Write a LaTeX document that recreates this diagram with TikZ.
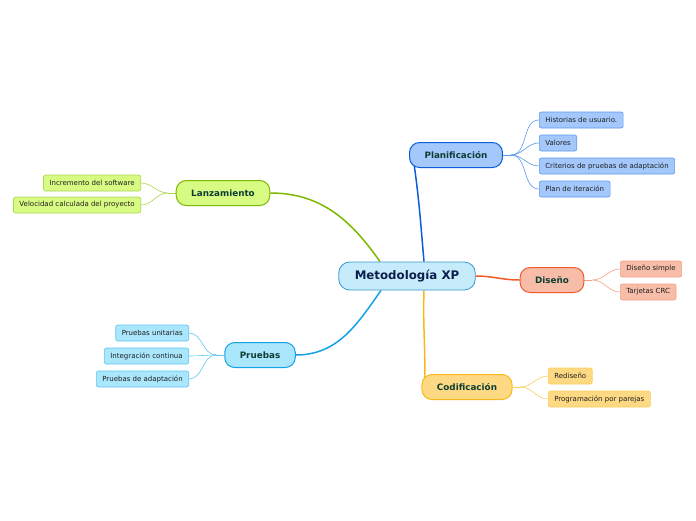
\documentclass[tikz,border=0pt]{standalone}
\usepackage{fontspec}
\setmainfont{DejaVu Sans}
\usetikzlibrary{backgrounds}
\definecolor{xpfill}{HTML}{C6ECFC}
\definecolor{xpline}{HTML}{3A95D3}
\definecolor{xptext}{HTML}{0B1F4D}
\definecolor{topictext}{HTML}{0E3D33}
\definecolor{leaftext}{HTML}{1E1E1E}
\definecolor{planfill}{HTML}{A4C8FC}
\definecolor{planline}{HTML}{0B5ED7}
\definecolor{plantwig}{HTML}{5C98EA}
\definecolor{disfill}{HTML}{F8BDA9}
\definecolor{disline}{HTML}{F05A28}
\definecolor{distwig}{HTML}{F4A085}
\definecolor{codfill}{HTML}{FED983}
\definecolor{codline}{HTML}{F8B81C}
\definecolor{codtwig}{HTML}{FBCD5C}
\definecolor{lanfill}{HTML}{D8FB84}
\definecolor{lanline}{HTML}{7CB800}
\definecolor{lantwig}{HTML}{A9D84E}
\definecolor{prufill}{HTML}{AAE6FC}
\definecolor{pruline}{HTML}{13A1E8}
\definecolor{prutwig}{HTML}{5EC6F1}
\tikzset{
	central/.style={draw=xpline, fill=xpfill, line width=0.8pt, rounded corners=11pt,
		minimum height=28pt, inner xsep=16pt, text=xptext, font=\bfseries\fontsize{11.8}{13}\selectfont},
	topic/.style={line width=1pt, rounded corners=10pt, minimum height=25pt,
		inner xsep=15pt, text=topictext, font=\bfseries\fontsize{8.8}{10}\selectfont},
	leaf/.style={line width=0.6pt, rounded corners=2pt, minimum height=16pt,
		inner xsep=6pt, text=leaftext, font=\fontsize{7}{8}\selectfont},
	branch/.style={line width=1.5pt},
	twig/.style={line width=0.6pt},
}
\begin{document}
\begin{tikzpicture}
	\useasboundingbox (0,0) rectangle (696pt,-520pt);
	\begin{scope}[x=1pt,y=1pt]
	\node[central] (xp) at (407,-276) {Metodología XP};
	% main topics
	\node[topic, draw=planline, fill=planfill] (plan) at (456,-155) {Planificación};
	\node[topic, draw=disline, fill=disfill] (dis) at (552,-280) {Diseño};
	\node[topic, draw=codline, fill=codfill] (cod) at (467,-387) {Codificación};
	\node[topic, draw=lanline, fill=lanfill] (lan) at (223,-193) {Lanzamiento};
	\node[topic, draw=pruline, fill=prufill] (pru) at (260,-355) {Pruebas};
	% leaves
	\node[leaf, draw=plantwig, fill=planfill, anchor=west] (hist) at (539,-120) {Historias de usuario.};
	\node[leaf, draw=plantwig, fill=planfill, anchor=west] (val) at (539,-143) {Valores};
	\node[leaf, draw=plantwig, fill=planfill, anchor=west] (crit) at (539,-166) {Criterios de pruebas de adaptación};
	\node[leaf, draw=plantwig, fill=planfill, anchor=west] (iter) at (539,-189) {Plan de iteración};
	\node[leaf, draw=distwig, fill=disfill, anchor=west] (simple) at (620,-269) {Diseño simple};
	\node[leaf, draw=distwig, fill=disfill, anchor=west] (crc) at (620,-292) {Tarjetas CRC};
	\node[leaf, draw=codtwig, fill=codfill, anchor=west] (redis) at (548,-376) {Rediseño};
	\node[leaf, draw=codtwig, fill=codfill, anchor=west] (pares) at (548,-399) {Programación por parejas};
	\node[leaf, draw=lantwig, fill=lanfill, anchor=east] (incr) at (141,-183) {Incremento del software};
	\node[leaf, draw=lantwig, fill=lanfill, anchor=east] (veloc) at (141,-205) {Velocidad calculada del proyecto};
	\node[leaf, draw=prutwig, fill=prufill, anchor=east] (unit) at (189,-333) {Pruebas unitarias};
	\node[leaf, draw=prutwig, fill=prufill, anchor=east] (integ) at (189,-356) {Integración continua};
	\node[leaf, draw=prutwig, fill=prufill, anchor=east] (adapt) at (189,-379) {Pruebas de adaptación};
	\begin{pgfonlayer}{background}
		\draw[branch, planline] ([xshift=17pt]xp.north) to[out=95,in=-82] ([xshift=5pt,yshift=4pt]plan.south west);
		\draw[branch, disline] (xp.east) to[out=0,in=180] (dis.west);
		\draw[branch, codline] ([xshift=17pt]xp.south) to[out=-92,in=88] ([xshift=3pt,yshift=2pt]cod.west);
		\draw[branch, lanline] ([xshift=-27pt]xp.north) to[out=125,in=0] (lan.east);
		\draw[branch, pruline] ([xshift=-26pt]xp.south) to[out=-125,in=0] (pru.east);
		\coordinate (planfork) at ([xshift=8pt]plan.east);
		\coordinate (disfork) at ([xshift=8pt]dis.east);
		\coordinate (codfork) at ([xshift=8pt]cod.east);
		\coordinate (lanfork) at ([xshift=-8pt]lan.west);
		\coordinate (prufork) at ([xshift=-8pt]pru.west);
		\draw[twig, plantwig] (plan.east) -- (planfork);
		\draw[twig, distwig] (dis.east) -- (disfork);
		\draw[twig, codtwig] (cod.east) -- (codfork);
		\draw[twig, lantwig] (lan.west) -- (lanfork);
		\draw[twig, prutwig] (pru.west) -- (prufork);
		\foreach \leaf in {hist,val,crit,iter}
			\draw[twig, plantwig] (planfork) to[out=0,in=180] (\leaf.west);
		\foreach \leaf in {simple,crc}
			\draw[twig, distwig] (disfork) to[out=0,in=180] (\leaf.west);
		\foreach \leaf in {redis,pares}
			\draw[twig, codtwig] (codfork) to[out=0,in=180] (\leaf.west);
		\foreach \leaf in {incr,veloc}
			\draw[twig, lantwig] (lanfork) to[out=180,in=0] (\leaf.east);
		\foreach \leaf in {unit,integ,adapt}
			\draw[twig, prutwig] (prufork) to[out=180,in=0] (\leaf.east);
	\end{pgfonlayer}
	\end{scope}
\end{tikzpicture}
\end{document}
